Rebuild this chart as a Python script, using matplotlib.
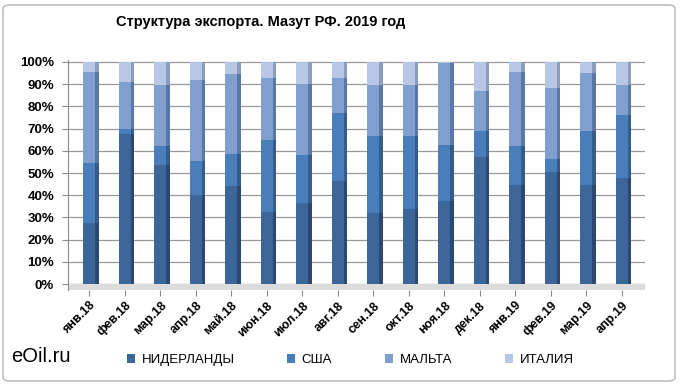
import matplotlib
matplotlib.use("Agg")
import matplotlib.pyplot as plt
from matplotlib.patches import FancyBboxPatch
import numpy as np

months = ["янв.18", "фев.18", "мар.18", "апр.18", "май.18", "июн.18", "июл.18", "авг.18",
          "сен.18", "окт.18", "ноя.18", "дек.18", "янв.19", "фев.19", "мар.19", "апр.19"]
series_names = ["НИДЕРЛАНДЫ", "США", "МАЛЬТА", "ИТАЛИЯ"]
netherlands = [27.4, 67.7, 53.4, 40.3, 44.0, 32.3, 36.4, 46.3, 32.0, 33.8, 37.6, 57.1, 44.8, 50.4, 44.8, 47.7]
usa = [27.2, 2.3, 8.6, 15.2, 14.6, 32.7, 21.6, 30.7, 34.6, 32.7, 25.1, 11.8, 17.2, 6.0, 24.2, 28.3]
malta = [41.0, 21.0, 27.5, 36.5, 36.1, 28.0, 32.0, 16.0, 23.2, 23.3, 36.8, 17.9, 33.5, 31.9, 26.0, 13.5]
italy = [4.4, 9.0, 10.5, 8.0, 5.3, 7.0, 10.0, 7.0, 10.2, 10.2, 0.5, 13.2, 4.5, 11.7, 5.0, 10.5]
yticks = [0, 10, 20, 30, 40, 50, 60, 70, 80, 90, 100]
ytick_labels = [f"{v}%" for v in yticks]

colors = ["#3c6699", "#4a7ebb", "#7f9fcf", "#b7c7e5"]
side_colors = ["#2a4870", "#345d8e", "#5a78a6", "#8a9dbf"]

ARIAL = ["Liberation Sans", "DejaVu Sans"]

fig = plt.figure(figsize=(6.8, 3.84), dpi=100)
fig.patch.set_facecolor("white")
fig.patches.append(FancyBboxPatch((3 / 680, 3 / 384), 672 / 680, 376 / 384,
                                  boxstyle="round,pad=0,rounding_size=0.01",
                                  transform=fig.transFigure, facecolor="white",
                                  edgecolor="#bfbfbf", linewidth=1.2, zorder=-10))

ax = fig.add_axes([68 / 680, (384 - 290) / 384, 577 / 680, 230 / 384])
ax.set_facecolor("none")

x = np.arange(len(months))
w = 0.34
sw = 0.09
series = [netherlands, usa, malta, italy]
bottom = np.zeros(len(months))
handles = []
for vals, c, sc, name in zip(series, colors, side_colors, series_names):
    vals = np.array(vals)
    h = ax.bar(x, vals, w, bottom=bottom, color=c, edgecolor="none", zorder=3, label=name)
    ax.bar(x + w / 2 + sw / 2, vals, sw, bottom=bottom, color=sc, edgecolor="none", zorder=3)
    handles.append(h)
    bottom = bottom + vals

ax.set_xlim(-0.6, 15.65)
ax.set_ylim(-2.7, 100.9)
ax.axhspan(-2.7, 0, color="#dcdcdc", zorder=2)
ax.set_yticks(yticks)
ax.set_yticklabels(ytick_labels, fontfamily=ARIAL, fontweight="bold", fontsize=9.5)
ax.yaxis.grid(True, color="#9a9a9a", linewidth=0.9, zorder=0)
ax.set_xticks(x)
ax.set_xticklabels(months, rotation=45, ha="right", rotation_mode="anchor",
                   fontfamily=ARIAL, fontweight="bold", fontsize=9)
ax.tick_params(axis="x", length=4, color="#8c8c8c", pad=3)
ax.tick_params(axis="y", length=4, color="#8c8c8c", pad=6)
for s in ["top", "right", "bottom"]:
    ax.spines[s].set_visible(False)
ax.spines["left"].set_color("#8c8c8c")

fig.text(261 / 680, 1 - 22 / 384, "Структура экспорта. Мазут РФ. 2019 год", ha="center", va="center",
         fontfamily=ARIAL, fontweight="bold", fontsize=10.5)
fig.text(11 / 680, 1 - 356 / 384, "eOil.ru", ha="left", va="center",
         fontfamily=ARIAL, fontsize=14.5)

leg = fig.legend(handles=handles, labels=series_names, loc="center left",
                 bbox_to_anchor=(115 / 680, 1 - 360 / 384), ncol=4, frameon=False,
                 prop={"family": ARIAL, "size": 9.5}, handlelength=0.6, handleheight=0.6,
                 handletextpad=0.5, columnspacing=4.0)

fig.savefig("out.png", dpi=100)
